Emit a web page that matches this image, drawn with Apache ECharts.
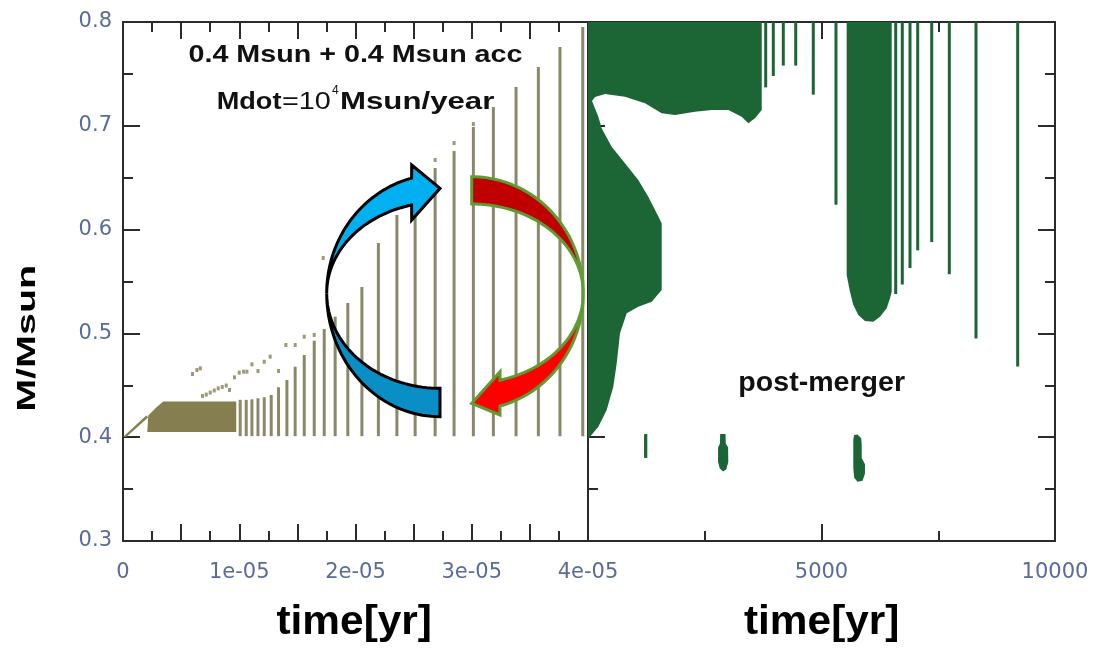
<!DOCTYPE html>
<html>
<head>
<meta charset="utf-8">
<script src="https://cdn.jsdelivr.net/npm/echarts@6/dist/echarts.min.js"></script>
<style>
  html, body { margin: 0; padding: 0; background: #ffffff; }
  #chart { width: 1094px; height: 648px; }
</style>
</head>
<body>
<div id="chart"></div>
<script>
// ---------- accretion phase (left panel): time [yr], mass [Msun] ----------
const accBarTime = [1.008e-5, 1.060e-5, 1.109e-5, 1.161e-5, 1.215e-5, 1.275e-5, 1.338e-5, 1.410e-5,
                    1.481e-5, 1.559e-5, 1.645e-5, 1.731e-5, 1.825e-5, 1.934e-5, 2.055e-5, 2.197e-5,
                    2.356e-5, 2.513e-5, 2.685e-5, 2.848e-5, 3.014e-5, 3.186e-5, 3.381e-5, 3.573e-5,
                    3.759e-5, 3.955e-5];
const accBarTop  = [0.436, 0.436, 0.4365, 0.4375, 0.4385, 0.4407, 0.4481, 0.4551,
                    0.4679, 0.4792, 0.4930, 0.5042, 0.5161, 0.5293, 0.5447, 0.5871,
                    0.6141, 0.6362, 0.6593, 0.6757, 0.6988, 0.7181, 0.7374, 0.7566,
                    0.7759, 0.7952];
const accBarBase = 0.401;

const accDotTime = [5.98e-6, 6.36e-6, 6.65e-6, 6.84e-6, 7.16e-6, 7.50e-6, 7.85e-6, 8.19e-6, 8.54e-6,
                    8.88e-6, 9.16e-6, 9.59e-6, 1.000e-5, 1.037e-5, 1.066e-5, 1.109e-5, 1.161e-5,
                    1.215e-5, 1.266e-5, 1.338e-5, 1.401e-5, 1.481e-5, 1.559e-5, 1.645e-5, 1.722e-5,
                    2.685e-5, 2.848e-5, 3.014e-5];
const accDotMass = [0.4609, 0.4647, 0.4663, 0.4397, 0.4410, 0.4430, 0.4450, 0.4470, 0.4484,
                    0.4498, 0.4455, 0.4577, 0.4622, 0.4631, 0.4631, 0.4702, 0.4638,
                    0.4727, 0.4776, 0.4638, 0.4888, 0.4888, 0.4968, 0.4985, 0.5727,
                    0.6671, 0.6834, 0.7017];

// dense early accretion band and the thin streak leading into it
const accCoreTime = [2.09e-6, 2.175e-6, 2.86e-6, 3.46e-6, 9.74e-6, 9.74e-6];
const accCoreMass = [0.4050, 0.4210, 0.4287, 0.4345, 0.4344, 0.4050];
const accStreakTime = [0, 2.0e-6, 2.175e-6, 2.84e-7];
const accStreakMass = [0.4002, 0.4210, 0.4191, 0.4002];

// ---------- post-merger phase (right panel) ----------
const pmBodyTime = [0, 3720, 3720, 3576, 3433, 3291, 3004, 2649, 2291, 1863, 1578, 1221, 792, 364,
                    150, 86, 221, 293, 507, 792, 1077, 1291, 1471, 1578, 1578, 1364, 1077, 829,
                    685, 615, 542, 400, 221, 43, 0];
const pmBodyMass = [0.8, 0.8, 0.7152, 0.7072, 0.7024, 0.7088, 0.7152, 0.7152, 0.7136, 0.7104, 0.7120,
                    0.7217, 0.7280, 0.7306, 0.7277, 0.7239, 0.7088, 0.6976, 0.6799, 0.6639, 0.6478,
                    0.6317, 0.6157, 0.6061, 0.5419, 0.5305, 0.5257, 0.5194, 0.5001, 0.4712, 0.4487,
                    0.4263, 0.4101, 0.4005, 0.3992];

const pmPlumeTime = [5539, 5539, 5610, 5681, 5788, 5931, 6109, 6253, 6396, 6467, 6503, 6503];
const pmPlumeMass = [0.8, 0.5563, 0.5402, 0.5274, 0.5177, 0.5120, 0.5113, 0.5161, 0.5242, 0.5338, 0.5402, 0.8];

const pmClumpATime = [1200, 1270, 1270, 1200];
const pmClumpAMass = [0.403, 0.403, 0.380, 0.380];

const pmClumpBTime = [2830, 2945, 2950, 3000, 3004, 2960, 2890, 2820, 2785, 2785, 2826];
const pmClumpBMass = [0.403, 0.403, 0.394, 0.390, 0.376, 0.369, 0.367, 0.370, 0.376, 0.390, 0.394];

const pmClumpCTime = [5700, 5770, 5850, 5861, 5861, 5931, 5931, 5880, 5770, 5700, 5681, 5681];
const pmClumpCMass = [0.402, 0.4025, 0.399, 0.393, 0.380, 0.374, 0.365, 0.358, 0.357, 0.361, 0.370, 0.398];

const pmLineTime   = [3805, 3968, 4182, 4448, 4824, 5310, 6589, 6730, 6895, 7060, 7360, 7737, 8308, 9201];
const pmLineBottom = [0.737, 0.748, 0.758, 0.758, 0.730, 0.624, 0.538, 0.547, 0.563, 0.580, 0.588, 0.557, 0.495, 0.468];
const pmLineTop = 0.8;

// ---------- tick labels ----------
const accTimeLabels = ['0', '1e-05', '2e-05', '3e-05', '4e-05'];
const pmTimeLabels  = ['5000', '10000'];
const massLabels    = ['0.3', '0.4', '0.5', '0.6', '0.7', '0.8'];

// ---------- colours ----------
const OLIVE = '#857f50';
const OLIVE_BAR = '#8b886a';
const GREEN = '#1c6535';
const FRAME = '#2b2b2b';
const TICK_TEXT = '#5a6a9a';

const chart = echarts.init(document.getElementById('chart'), null, { renderer: 'canvas' });

function frameAxis(extra) {
  return Object.assign({
    type: 'value',
    axisLine: { show: true, onZero: false, lineStyle: { color: FRAME, width: 2 } },
    axisTick: { show: true, inside: true, length: 17, lineStyle: { color: FRAME, width: 2 } },
    minorTick: { show: true, splitNumber: 2, length: 10, lineStyle: { color: FRAME, width: 2 } },
    splitLine: { show: false },
    minorSplitLine: { show: false },
    axisLabel: { show: false }
  }, extra);
}

const labelStyle = { fontFamily: 'DejaVu Sans', fontSize: 21, color: TICK_TEXT };

function polygonSeries(times, masses, color, xi, yi) {
  return {
    type: 'custom', xAxisIndex: xi, yAxisIndex: yi, clip: true, silent: true,
    data: [[times[0], masses[0]]],
    renderItem: (params, api) => ({
      type: 'polygon',
      shape: { points: times.map((t, i) => api.coord([t, masses[i]])) },
      style: { fill: color }
    })
  };
}

function stickSeries(times, lows, highs, color, width, xi, yi) {
  return {
    type: 'custom', xAxisIndex: xi, yAxisIndex: yi, clip: true, silent: true,
    data: times.map((t, i) => [t, lows[i], highs[i]]),
    renderItem: (params, api) => {
      const p0 = api.coord([api.value(0), api.value(1)]);
      const p1 = api.coord([api.value(0), api.value(2)]);
      return {
        type: 'rect',
        shape: { x: p0[0] - width / 2, y: p1[1], width: width, height: p0[1] - p1[1] },
        style: { fill: color }
      };
    }
  };
}

// curved arrows (ellipse arcs), angles in degrees
function arc(cx, cy, rx, ry, a0, a1, n) {
  const pts = [];
  for (let i = 0; i <= n; i++) {
    const a = (a0 + (a1 - a0) * i / n) * Math.PI / 180;
    pts.push([cx + rx * Math.cos(a), cy - ry * Math.sin(a)]);
  }
  return pts;
}
const blueTop = arc(440, 293.3, 113.3, 119, 104.5, 180, 40)
  .concat(arc(440, 293.3, 113.3, 91.2, 180, 104.5, 40))
  .concat([[411.7, 220], [440, 188.3], [411.7, 165]]);
const blueBottom = arc(440, 293.3, 113.3, 123.4, 180, 270, 40)
  .concat(arc(440, 293.3, 113.3, 95, 270, 180, 40));
const redTop = arc(471.7, 293.3, 111.6, 116.6, 90, 0, 40)
  .concat(arc(471.7, 293.3, 111.6, 89.3, 0, 90, 40));
const redBottom = arc(471.7, 293.3, 111.6, 116.5, 0, -75.3, 40)
  .concat([[500, 415], [471.7, 403.3], [500, 371.7]])
  .concat(arc(471.7, 293.3, 111.6, 89.7, -75.3, 0, 40));

const FONT = '"Liberation Sans", Arial, sans-serif';

const option = {
  backgroundColor: '#ffffff',
  animation: false,
  grid: [
    { left: 123, top: 22, width: 465, height: 519, outerBoundsMode: 'none', containLabel: false },
    { left: 588, top: 22, width: 467, height: 519, outerBoundsMode: 'none', containLabel: false }
  ],
  xAxis: [
    frameAxis({
      gridIndex: 0, position: 'bottom', min: 0, max: 4e-5, interval: 5e-6,
      axisLabel: Object.assign({
        show: true, margin: 21, showMinLabel: true, showMaxLabel: true,
        formatter: v => { const k = Math.round(v / 5e-6); return k % 2 === 0 ? accTimeLabels[k / 2] : ''; }
      }, labelStyle)
    }),
    frameAxis({ gridIndex: 0, position: 'top', min: 0, max: 4e-5, interval: 5e-6 }),
    frameAxis({
      gridIndex: 1, position: 'bottom', min: 0, max: 10000, interval: 5000,
      axisLabel: Object.assign({
        show: true, margin: 21, showMinLabel: true, showMaxLabel: true,
        formatter: v => { const k = Math.round(v / 5000); return k === 0 ? '' : pmTimeLabels[k - 1]; }
      }, labelStyle)
    }),
    frameAxis({ gridIndex: 1, position: 'top', min: 0, max: 10000, interval: 5000 })
  ],
  yAxis: [
    frameAxis({
      gridIndex: 0, position: 'left', min: 0.3, max: 0.8, interval: 0.1,
      axisLabel: Object.assign({
        show: true, margin: 11, showMinLabel: true, showMaxLabel: true,
        formatter: v => massLabels[Math.round((v - 0.3) / 0.1)]
      }, labelStyle)
    }),
    frameAxis({ gridIndex: 1, position: 'left', min: 0.3, max: 0.8, interval: 0.1 }),
    frameAxis({ gridIndex: 1, position: 'right', min: 0.3, max: 0.8, interval: 0.1 })
  ],
  series: [
    polygonSeries(accStreakTime, accStreakMass, OLIVE, 0, 0),
    polygonSeries(accCoreTime, accCoreMass, OLIVE, 0, 0),
    stickSeries(accBarTime, accBarTime.map(() => accBarBase), accBarTop, OLIVE_BAR, 3, 0, 0),
    {
      type: 'scatter', xAxisIndex: 0, yAxisIndex: 0, silent: true,
      symbol: 'rect', symbolSize: [3, 4],
      itemStyle: { color: OLIVE },
      data: accDotTime.map((t, i) => [t, accDotMass[i]])
    },
    polygonSeries(pmBodyTime, pmBodyMass, GREEN, 2, 1),
    polygonSeries(pmPlumeTime, pmPlumeMass, GREEN, 2, 1),
    polygonSeries(pmClumpATime, pmClumpAMass, GREEN, 2, 1),
    polygonSeries(pmClumpBTime, pmClumpBMass, GREEN, 2, 1),
    polygonSeries(pmClumpCTime, pmClumpCMass, GREEN, 2, 1),
    stickSeries(pmLineTime, pmLineBottom, pmLineTime.map(() => pmLineTop), GREEN, 3, 2, 1)
  ],
  graphic: [
    // recycling arrows
    { type: 'polygon', z: 100, shape: { points: blueBottom }, style: { fill: '#0a8ec6', stroke: '#000000', lineWidth: 3 } },
    { type: 'polygon', z: 100, shape: { points: blueTop }, style: { fill: '#00b0f0', stroke: '#000000', lineWidth: 3 } },
    { type: 'polygon', z: 100, shape: { points: redTop }, style: { fill: '#c00000', stroke: '#5e9c32', lineWidth: 3 } },
    { type: 'polygon', z: 100, shape: { points: redBottom }, style: { fill: '#ff0000', stroke: '#5e9c32', lineWidth: 3 } },

    // annotations
    { type: 'text', z: 110, x: 355.5, y: 55, scaleX: 1.195,
      style: { text: '0.4 Msun + 0.4 Msun acc', font: 'bold 24px ' + FONT, fill: '#111111', align: 'center', verticalAlign: 'middle' } },
    { type: 'text', z: 110, x: 216.7, y: 102, scaleX: 1.13,
      style: { text: 'Mdot', font: 'bold 24px ' + FONT, fill: '#111111', align: 'left', verticalAlign: 'middle' } },
    { type: 'text', z: 110, x: 282, y: 102, scaleX: 1.2,
      style: { text: '=10', font: '24px ' + FONT, fill: '#111111', align: 'left', verticalAlign: 'middle' } },
    { type: 'text', z: 110, x: 332, y: 91,
      style: { text: '4', font: '12px ' + FONT, fill: '#111111', align: 'left', verticalAlign: 'middle' } },
    { type: 'text', z: 110, x: 340, y: 102, scaleX: 1.3,
      style: { text: 'Msun/year', font: 'bold 24px ' + FONT, fill: '#111111', align: 'left', verticalAlign: 'middle' } },
    { type: 'text', z: 110, x: 821.7, y: 384, scaleX: 1.058,
      style: { text: 'post-merger', font: 'bold 27px ' + FONT, fill: '#111111', align: 'center', verticalAlign: 'middle' } },

    // axis titles
    { type: 'text', z: 110, x: 27.7, y: 338.3, rotation: Math.PI / 2, scaleX: 1.52,
      style: { text: 'M/Msun', font: 'bold 26px ' + FONT, fill: '#000000', align: 'center', verticalAlign: 'middle' } },
    { type: 'text', z: 110, x: 354.2, y: 623, scaleX: 1.06,
      style: { text: 'time[yr]', font: 'bold 40px ' + FONT, fill: '#000000', align: 'center', verticalAlign: 'middle' } },
    { type: 'text', z: 110, x: 821.7, y: 623, scaleX: 1.06,
      style: { text: 'time[yr]', font: 'bold 40px ' + FONT, fill: '#000000', align: 'center', verticalAlign: 'middle' } }
  ]
};

chart.setOption(option);
</script>
</body>
</html>
